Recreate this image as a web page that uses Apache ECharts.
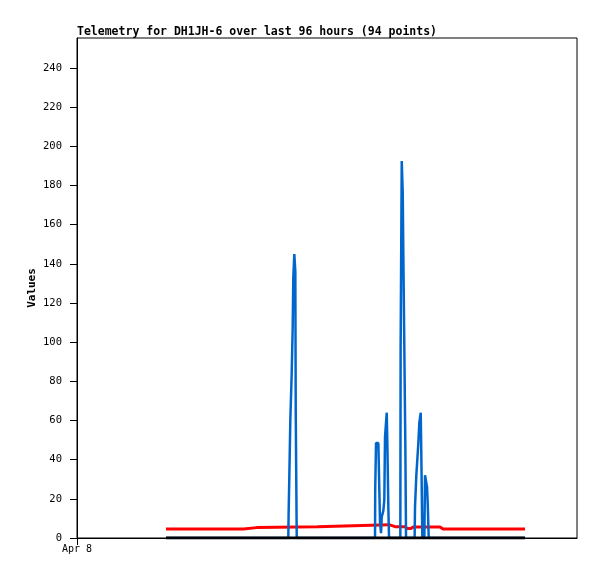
<!DOCTYPE html>
<html>
<head>
<meta charset="utf-8">
<script src="https://cdn.jsdelivr.net/npm/echarts@6/dist/echarts.min.js"></script>
<style>
html,body{margin:0;padding:0;background:#fff;}
#chart{width:597px;height:579px;}
</style>
</head>
<body>
<div id="chart"></div>
<script>
// Hours since Apr 8 00:00
const titleText = 'Telemetry for DH1JH-6 over last 96 hours (94 points)';
const yAxisName = 'Values';
const yTickValues = [0, 20, 40, 60, 80, 100, 120, 140, 160, 180, 200, 220, 240];
const xTickValues = [0];
const xTickLabels = ['Apr 8'];

const redHours = [23.85, 35.46, 35.65, 35.91, 44.63, 44.76, 48.11, 48.24, 64.46, 64.59, 83.62, 83.89, 85.23, 87.91, 88.45, 89.52, 90.06, 97.29, 98.10, 107.83, 108.01, 108.20, 120.07];
const redValues = [4.6, 4.6, 5.3, 4.6, 4.6, 5.3, 5.3, 5.8, 5.8, 6.8, 6.8, 6.2, 5.8, 5.8, 4.9, 4.9, 5.6, 5.6, 4.6, 4.6, 5.3, 4.6, 4.6];

const blueHours = [23.85,
  56.63, 56.71, 56.90, 57.17, 57.54, 57.81, 57.97, 58.24, 58.51, 58.62, 58.89,
  79.87, 79.92, 80.14, 80.76, 80.86, 81.02, 81.21, 81.48, 81.67, 82.10, 82.36, 82.55, 83.01, 83.17, 83.44, 83.62,
  86.65, 86.73, 87.03, 87.30, 87.46, 87.64, 87.99, 88.18,
  90.48, 90.59, 90.94, 91.48, 91.74, 92.12, 92.28, 92.55, 93.09, 93.27, 93.62, 93.81, 94.02, 94.26,
  120.07];
const blueValues = [0,
  0, 12, 31, 60, 84, 108, 133, 145, 136, 64, 0,
  0, 24.5, 48.5, 48.5, 40, 24.5, 8, 2.5, 10.7, 14, 19.4, 51.6, 64, 48.5, 15.8, 0,
  0, 96.5, 192.5, 176, 144.5, 112, 48.5, 0,
  0, 16, 32, 48.5, 58.7, 64, 42, 0, 0, 32, 32, 26, 16, 0,
  0];

const blackHours = [23.85, 120.07];
const blackValues = [0, 0];

const xMin = 0, xMax = 134;
const yMin = 0, yMax = 255.3;

function pairs(xs, ys) { return xs.map((x, i) => [x, ys[i]]); }

const mono = 'DejaVu Sans Mono';
const chart = echarts.init(document.getElementById('chart'), null, {renderer: 'canvas'});
chart.setOption({
  animation: false,
  backgroundColor: '#fff',
  title: {
    text: titleText,
    left: 77, top: 26, padding: 0,
    textStyle: {fontFamily: mono, fontSize: 11.5, fontWeight: 'bold', color: '#000'}
  },
  graphic: [{
    type: 'text', x: 32, y: 288, rotation: Math.PI / 2,
    style: {text: yAxisName, fontFamily: mono, fontSize: 11, fontWeight: 'bold', fill: '#000', align: 'center', verticalAlign: 'middle'}
  }],
  grid: {left: 77, top: 38, right: 20, bottom: 41, show: true, borderColor: '#000', borderWidth: 1, containLabel: false},
  xAxis: {
    type: 'value', min: xMin, max: xMax,
    splitLine: {show: false},
    axisLine: {show: true, lineStyle: {color: '#000', width: 1}},
    axisTick: {show: true, length: 7, customValues: xTickValues, lineStyle: {color: '#000'}},
    axisLabel: {customValues: xTickValues, formatter: (v) => xTickLabels[xTickValues.indexOf(v)] || '', fontFamily: mono, fontSize: 10, color: '#000', margin: 6}
  },
  yAxis: {
    type: 'value', min: yMin, max: yMax,
    splitLine: {show: false},
    axisLine: {show: true, lineStyle: {color: '#000', width: 1}},
    axisTick: {show: true, length: 7, customValues: yTickValues, lineStyle: {color: '#000'}},
    axisLabel: {customValues: yTickValues, fontFamily: mono, fontSize: 10.5, color: '#000', margin: 15}
  },
  series: [
    {type: 'line', data: pairs(redHours, redValues), showSymbol: false, lineStyle: {color: '#ff0000', width: 3}, z: 2},
    {type: 'line', data: pairs(blueHours, blueValues), showSymbol: false, lineStyle: {color: '#0066cc', width: 2.5}, z: 3},
    {type: 'line', data: pairs(blackHours, blackValues), showSymbol: false, lineStyle: {color: '#000000', width: 3}, z: 4}
  ]
});
</script>
</body>
</html>
